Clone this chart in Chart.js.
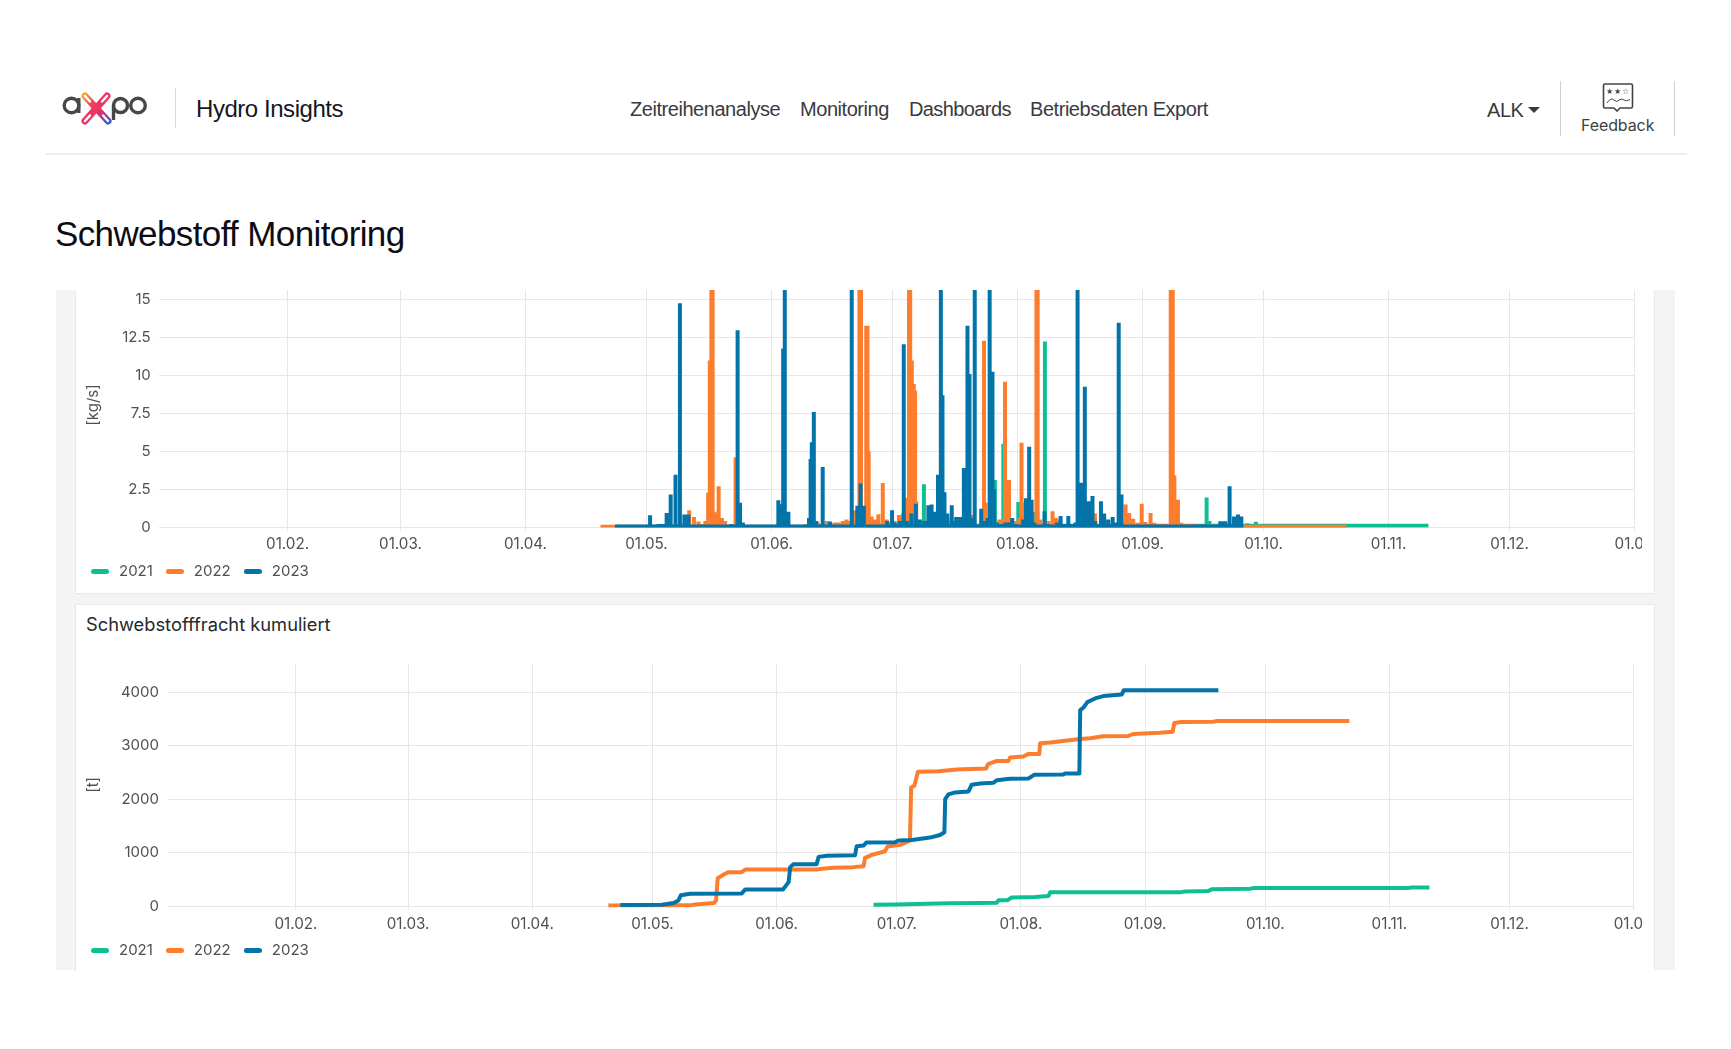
<!DOCTYPE html>
<html lang="de">
<head>
<meta charset="utf-8">
<title>Schwebstoff Monitoring</title>
<script src="https://cdn.jsdelivr.net/npm/chart.js@4"></script>
<style>
html,body{margin:0;padding:0;background:#fff;width:1731px;height:1049px;overflow:hidden}
.abs{position:absolute;white-space:nowrap}
.head{font-family:"Liberation Sans",Arial,sans-serif;letter-spacing:-.45px;color:#3a3a40}
canvas{position:absolute;display:block}
</style>
</head>
<body>
<!-- header -->
<svg class="abs" style="left:60px;top:90px" width="92" height="38" viewBox="0 0 92 38">
  <defs>
    <linearGradient id="gA" gradientUnits="userSpaceOnUse" x1="24" y1="5" x2="50" y2="32"><stop offset="0" stop-color="#f8a23c"/><stop offset=".3" stop-color="#f0445a"/><stop offset=".62" stop-color="#e62f68"/><stop offset="1" stop-color="#2f55d4"/></linearGradient>
  </defs>
  <g fill="none" stroke="#47474b" stroke-width="3.4">
    <circle cx="11.5" cy="15.5" r="7.3"/><path d="M18.8 8v15"/>
    <circle cx="60.500" cy="15.5" r="7"/><path d="M53.500 15v15"/>
    <circle cx="78" cy="15.500" r="7.300"/>
  </g>
  <g fill="none" stroke-linecap="round">
    <path d="M47 6 L25 31" stroke="#ec3564" stroke-width="7"/>
    <path d="M25 6 L48 31" stroke="url(#gA)" stroke-width="7"/>
    <g stroke="#fff" stroke-width="2.400">
      <path d="M25 6 L30 11.500"/><path d="M43 25.500 L48 31"/><path d="M47 6 L42 11.500"/><path d="M25 31 L30 25.500"/>
    </g>
  </g>
</svg>
<div class="abs" style="left:175px;top:88px;width:1px;height:40px;background:#d8d8d8"></div>
<div class="abs head" id="brand" style="left:196px;top:95px;font-size:24px;line-height:28px;color:#16161e">Hydro Insights</div>
<div class="abs head nav" style="left:630px;top:98px;font-size:20px;line-height:23px">Zeitreihenanalyse</div>
<div class="abs head nav" style="left:800px;top:98px;font-size:20px;line-height:23px">Monitoring</div>
<div class="abs head nav" style="left:909px;top:98px;font-size:20px;line-height:23px;letter-spacing:-.6px">Dashboards</div>
<div class="abs head nav" style="left:1030px;top:98px;font-size:20px;line-height:23px">Betriebsdaten Export</div>
<div class="abs head" style="left:1487px;top:98px;font-size:20px;line-height:24px;">ALK</div>
<div class="abs" style="left:1528px;top:107px;width:0;height:0;border-left:6px solid transparent;border-right:6px solid transparent;border-top:6px solid #3a3a40"></div>
<div class="abs" style="left:1560px;top:81px;width:1px;height:55px;background:#d0d0d0"></div>
<div class="abs" style="left:1674px;top:81px;width:1px;height:55px;background:#d0d0d0"></div>
<svg class="abs" style="left:1602px;top:82px" width="32" height="30" viewBox="0 0 32 30">
  <path d="M3 2h26a1.500 1.500 0 0 1 1.500 1.500v21a1.500 1.500 0 0 1-1.500 1.500H18l-3 3-3-3H3a1.500 1.500 0 0 1-1.500-1.500v-21A1.500 1.500 0 0 1 3 2z" fill="none" stroke="#444" stroke-width="1.600"/>
  <text x="16" y="11.500" text-anchor="middle" font-size="8" font-family="DejaVu Sans" fill="#444" letter-spacing=".8">★★☆</text>
  <path d="M5 21q4-6 7-3t5 0q3-2 5 0t6-.5" fill="none" stroke="#444" stroke-width="1"/>
</svg>
<div class="abs" style="left:1581px;top:115px;font-family:Inter,sans-serif;font-size:16px;line-height:20px;color:#3f3f43;letter-spacing:-.1px">Feedback</div>
<div class="abs" style="left:46px;top:153px;width:1641px;height:1.500px;background:#eeeeee"></div>
<div class="abs head" id="title" style="left:55px;top:214px;font-size:35px;line-height:40px;color:#0c0c12;letter-spacing:-.62px">Schwebstoff Monitoring</div>

<!-- panels -->
<div class="abs" style="left:56px;top:290px;width:1619px;height:680px;background:#f4f4f4"></div>
<div class="abs" style="left:75px;top:290px;width:1578px;height:303px;background:#fff;border:1px solid #e9e9e9;border-top:0"></div>
<div class="abs" style="left:75px;top:604px;width:1578px;height:366px;background:#fff;border:1px solid #e9e9e9;border-bottom:0"></div>
<div class="abs" style="left:86px;top:613px;font-family:Inter,sans-serif;font-size:18.3px;line-height:22px;color:#24292e">Schwebstofffracht kumuliert</div>

<!-- the first chart is scrolled a few pixels under the panel's top edge -->
<canvas id="loadChart" style="left:76px;top:283px;clip-path:inset(7px 0 0 0)"></canvas>
<canvas id="cumChart" style="left:76px;top:639px"></canvas>

<script>
// ---------- categories and tick labels ----------
const seriesNames = ['2021', '2022', '2023'];
const seriesColors = ['#0cc093', '#fc7d2d', '#0274a9'];
const monthDays = [31, 59, 90, 120, 151, 181, 212, 243, 273, 304, 334, 365];
const monthLabels = ['01.02.', '01.03.', '01.04.', '01.05.', '01.06.', '01.07.', '01.08.', '01.09.', '01.10.', '01.11.', '01.12.', '01.01.'];
const loadTicks = [0, 2.5, 5, 7.5, 10, 12.5, 15];
const loadTickLabels = ['0', '2.5', '5', '7.5', '10', '12.5', '15'];
const cumTicks = [0, 1000, 2000, 3000, 4000];
const cumTickLabels = ['0', '1000', '2000', '3000', '4000'];

// ---------- Schwebstofffracht [kg/s] ----------
// season start day, end day and resting level of each year
const loadSpan2021 = [175, 313.9, 0.09];
const loadSpan2022 = [108.6, 293.6, 0.02];
const loadSpan2023 = [112.2, 268, 0.03];
// flood peaks: [day of year, peak value]
const loadPeaks2021 = [
  [188.8,2.82],[206.4,3.1],[208.5,5.5],[212.2,1.65],[212.9,1.65],[215.9,1],[218.8,12.25],[258.9,1.95],[259.6,0.4],[269,0.25],[271.1,0.35]
];
const loadPeaks2022 = [
  [109.5,0.1],[110.5,0.15],[130.6,1.1],[131.8,0.66],[132.9,0.37],[133.8,0.2],[134.6,0.4],[135.3,2.27],[135.7,11],[136.1,16.5],[136.4,16.5],[136.8,1],[137.5,0.9],[137.9,2.7],
  [138.7,0.6],[139.5,0.4],[142.1,4.6],[143,0.2],[144,0.15],[145,0.15],[146,0.15],[147,0.15],[148,0.15],[149,0.15],[150,0.15],[151,0.15],[152,0.15],
  [158,0.1],[159.5,0.2],[160.5,0.4],[161.5,0.3],[162.5,0.3],[163.5,0.2],[164.7,0.4],[165.7,0.25],[166.7,0.3],[167.7,0.3],[168.7,0.4],[169.6,0.5],[170.6,0.4],[171.7,1.1],
  [172.8,16.5],[173.2,16.5],[174,0.7],[174.5,13.3],[174.8,13.3],[175.1,5],[175.8,0.7],[176.6,0.5],[177.5,0.85],[178.6,2.9],[179.6,0.5],[180.5,0.3],[181.5,0.4],[182.6,0.8],[183.6,0.9],
  [184.5,1.94],[185.1,16.5],[185.4,16.5],[185.8,11],[186.3,9.44],[186.6,9],[186.9,1.7],[187.8,0.4],[189,0.4],[191.5,0.5],[194.7,0.5],[200.6,0.8],[203.7,12.3],[204.1,1.6],
  [207.5,0.5],[208.2,0.5],[208.9,9.6],[209.3,3.1],[209.9,3.1],[210.5,0.5],[211.5,0.4],[212.4,0.6],[213,5.56],[213.5,1.6],[214.2,0.3],[216.7,16.5],[217,16.5],[217.6,0.5],
  [219.6,0.4],[220.7,1.04],[221.6,0.6],[222.5,0.5],[231.2,0.9],[238.8,1.48],[239.7,0.93],[240.7,0.55],[241.8,0.28],[242.8,1.54],[243.7,0.33],[245,0.93],[245.9,0.28],
  [247,0.2],[248,0.2],[249,0.2],[250,16.5],[250.5,16.5],[250.9,3.4],[251.8,1.8],[252.6,0.28],[253.6,0.2],[254.6,0.2],[255.6,0.2],[257,0.1]
];
const loadPeaks2023 = [
  [120.9,0.77],[123,0.2],[124,0.2],[125,0.93],[126,2.14],[127.2,3.46],[128.3,14.78],[129.4,0.82],[130.4,0.82],[141,0.2],[142.6,13],[143.2,1.6],[143.9,0.3],
  [152.7,1.76],[153.5,1.5],[153.9,11.8],[154.3,16.5],[155.2,1],[160.3,0.6],[160.7,4.5],[161,5.6],[161.5,7.6],[162.1,0.4],[163.7,3.97],[165.5,0.37],[170.9,16.5],[172.3,1.4],[173.1,2.87],[173.9,1.4],
  [179.7,0.4],[180.9,1.1],[181.6,0.3],[182.8,0.4],[183.8,12.07],[184.6,0.4],[185.7,0.9],[186.8,1.54],[187.8,0.5],[188.9,0.4],[189.9,1.43],[190.7,1.48],[191.5,1],[192.3,3.46],
  [193,16.5],[193.4,8.7],[193.9,2.3],[194.6,0.9],[195.7,1.43],[196.3,0.4],[196.8,0.66],[197.8,0.66],[198.7,3.9],[199.6,13.3],[200.1,10.1],[200.8,0.6],[201.4,16.5],[203,1.2],[203.8,0.4],[204.6,0.6],
  [205.1,16.5],[205.8,10.25],[206.2,2.5],[206.9,0.3],[208,0.2],[209,0.3],[210,0.3],[210.7,0.6],[211.5,0.2],[213.4,0.5],[214.1,1.9],[214.9,5.3],[215.5,1.8],[216.2,0.3],[218.7,1.04],[219.5,0.2],
  [221.8,0.3],[222.7,0.73],[223.5,0.2],[224.6,0.73],[225.4,0.2],[226.4,0.3],[226.9,16.5],[227.8,2.93],[228.7,9.27],[229.7,1.7],[230.6,2.05],[231.3,0.4],[232.7,1.7],[233.5,0.9],[234.5,0.5],[235.6,0.66],
  [236.4,0.3],[237.1,13.5],[237.8,2.14],[262.3,0.38],[262.9,0.38],[263.5,0.38],[264.6,2.69],[265.7,0.7],[266.7,0.83],[267.5,0.7]
];

// ---------- Schwebstofffracht kumuliert [t]: [day of year, value] ----------
const cum2021 = [
  [175.2,25],[180.6,30],[188.5,43],[194.3,50],[201.8,56],[206,62],[206.4,106],[208.6,106],[209.7,161],[215.5,168],[218.9,186],[219.3,255],
  [251.7,255],[253,273],[258.8,280],[259.6,311],[269.2,323],[270,335],[308.7,335],[309.5,348],[314,348]
];
const cum2022 = [
  [109,10],[129.4,12],[130.7,30],[135.3,55],[135.9,105],[136.3,520],[137.8,590],[139,633],[142.3,633],[143.2,683],[161,683],[162.3,695],[165.2,714],[170.2,727],
  [172.7,745],[173.1,900],[174.8,957],[178.1,1025],[178.7,1112],[181.8,1143],[184.3,1224],[184.6,2217],[185.4,2248],[186.3,2510],[191.4,2522],[196,2553],[203.3,2571],[203.8,2652],
  [206,2714],[208.9,2714],[209.3,2776],[212.6,2795],[213.9,2845],[216.6,2845],[216.8,3043],[219.3,3056],[226.8,3124],[229.3,3137],[232.6,3174],[238.8,3180],[240,3217],
  [246.7,3242],[249.9,3261],[250.3,3422],[252.1,3441],[260,3447],[261,3460],[294,3460]
];
const cum2023 = [
  [112,18],[122.4,25],[125.3,55],[126.5,105],[127.1,200],[129.4,230],[142.3,236],[143.2,310],[152.6,310],[154,447],[154.4,727],[155.2,783],[161,783],[161.5,919],[163.5,938],
  [170.6,950],[171,1118],[172.7,1130],[173.4,1186],[180.6,1193],[181.4,1224],[184.8,1236],[189.3,1280],[191.8,1329],[192.9,1379],[193.1,2000],[193.9,2087],[195.6,2124],[198.9,2143],
  [199.7,2267],[201.8,2290],[205.1,2304],[206,2354],[209.3,2379],[213.9,2385],[215.3,2453],[222.6,2460],[223,2478],[226.6,2478],[226.8,3665],[227.6,3708],[228.6,3814],
  [230.5,3882],[232.6,3926],[237.2,3957],[237.7,4037],[261.3,4037]
];

// each peak rises from and returns to the resting level
function peaksToPath(span, peaks) {
  const pts = [[span[0], span[2]]];
  peaks.forEach(p => { pts.push([p[0], span[2]], [p[0], p[1]], [p[0], span[2]]); });
  pts.push([span[1], span[2]]);
  return pts;
}
const loadSeries = [
  peaksToPath(loadSpan2021, loadPeaks2021),
  peaksToPath(loadSpan2022, loadPeaks2022),
  peaksToPath(loadSpan2023, loadPeaks2023)
];
const cumSeries = [cum2021, cum2022, cum2023];

// ---------- shared drawing ----------
const FONT = 'Inter, sans-serif';
const TEXT = '#505054';
const GRID = '#e7e7ea';

function swatch(color) {
  const c = document.createElement('canvas');
  c.width = 18; c.height = 5;
  const x = c.getContext('2d');
  x.fillStyle = color;
  x.beginPath(); x.roundRect(0, 0, 18, 5, 2.5); x.fill();
  return c;
}

function makeChart(id, cfg) {
  const cv = document.getElementById(id);
  cv.width = cfg.w; cv.height = cfg.h;
  cv.style.width = cfg.w + 'px'; cv.style.height = cfg.h + 'px';
  return new Chart(cv, {
    type: 'line',
    data: {
      datasets: cfg.series.map((pts, i) => ({
        label: seriesNames[i],
        data: pts.map(p => ({ x: p[0], y: p[1] })),
        borderColor: seriesColors[i],
        backgroundColor: seriesColors[i],
        borderWidth: cfg.lineWidth,
        borderJoinStyle: cfg.join,
        pointRadius: 0,
        tension: 0,
        fill: false,
        order: 3 - i,
        clip: { left: 0, top: 0, right: 0, bottom: cfg.clipBottom }
      }))
    },
    options: {
      responsive: false,
      animation: false,
      devicePixelRatio: 1,
      events: [],
      layout: { padding: { left: 2, right: cfg.padRight, top: cfg.padTop, bottom: 0 } },
      plugins: {
        tooltip: { enabled: false },
        title: { display: false },
        legend: {
          display: true,
          position: 'bottom',
          align: 'start',
          labels: {
            usePointStyle: true,
            pointStyleWidth: 23,
            padding: 10.5,
            color: TEXT,
            font: { family: FONT, size: 15 },
            generateLabels: chart => chart.data.datasets.map((d, i) => ({
              text: d.label,
              fontColor: TEXT,
              pointStyle: swatch(seriesColors[i]),
              datasetIndex: i,
              hidden: false,
              lineWidth: 0,
              strokeStyle: 'transparent',
              fillStyle: seriesColors[i]
            }))
          }
        }
      },
      scales: {
        x: {
          type: 'linear',
          min: cfg.xMin,
          max: 365,
          border: { display: false },
          grid: { color: GRID, lineWidth: 1, drawTicks: true, tickLength: 4, tickColor: GRID },
          ticks: {
            autoSkip: false, maxRotation: 0, minRotation: 0, padding: cfg.xPad,
            color: TEXT, font: { family: FONT, size: 15.2 },
            callback: (v, i) => monthLabels[i]
          },
          afterBuildTicks: s => { s.ticks = monthDays.map(v => ({ value: v })); },
          afterFit: s => { s.height = cfg.xHeight; s.paddingLeft = 0; s.paddingRight = 0; }
        },
        y: {
          type: 'linear',
          min: 0,
          max: cfg.yMax,
          border: { display: false },
          grid: { color: GRID, lineWidth: 1, drawTicks: false },
          title: {
            display: true,
            text: cfg.yTitle,
            color: TEXT,
            font: { family: FONT, size: 15 },
            padding: { top: cfg.titlePad, bottom: 0 }
          },
          ticks: {
            padding: cfg.yPad,
            color: TEXT, font: { family: FONT, size: 15 },
            callback: (v, i) => cfg.yLabels[i]
          },
          afterBuildTicks: s => { s.ticks = cfg.yTicks.map(v => ({ value: v })); },
          afterFit: s => { s.width = cfg.yWidth; s.paddingTop = 0; s.paddingBottom = 0; }
        }
      }
    }
  });
}

makeChart('loadChart', {
  w: 1566, h: 306, series: loadSeries, lineWidth: 4, join: 'miter', clipBottom: 0.6,
  xMin: -0.8, yMax: 16.12, yTicks: loadTicks, yLabels: loadTickLabels, yTitle: '[kg/s]',
  padRight: 7.5, padTop: 0, xHeight: 26.5, yWidth: 81.3, yPad: 8.6, xPad: 4, titlePad: 6.7
});
makeChart('cumChart', {
  w: 1566, h: 329, series: cumSeries, lineWidth: 4, join: 'round', clipBottom: 1.5,
  xMin: -0.87, yMax: 4530, yTicks: cumTicks, yLabels: cumTickLabels, yTitle: '[t]',
  padRight: 8.3, padTop: 24.8, xHeight: 26.5, yWidth: 90.3, yPad: 9.3, xPad: 5, titlePad: 6.7
});
</script>
</body>
</html>
